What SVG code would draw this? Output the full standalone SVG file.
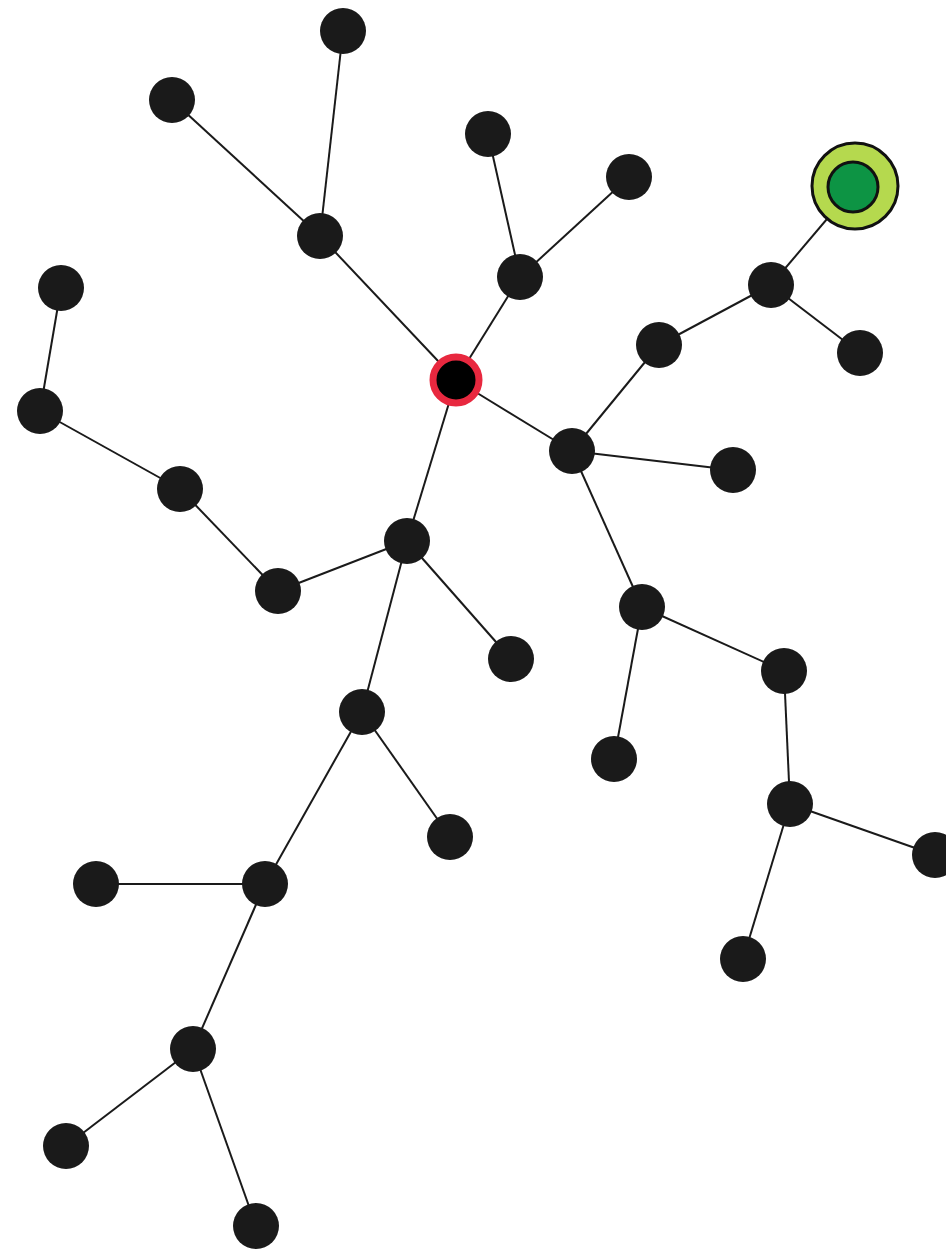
<svg xmlns="http://www.w3.org/2000/svg" width="946" height="1249" viewBox="0 0 946 1249">
<style>
.e{stroke:#1a1a1a;stroke-width:2;fill:none}
.n{fill:#1a1a1a}
</style>
<rect width="946" height="1249" fill="#fff"/>
<g id="connectors" class="e">
<line x1="343" y1="31" x2="320" y2="236"/>
<line x1="172" y1="100" x2="320" y2="236"/>
<line x1="320" y1="236" x2="456" y2="380"/>
<line x1="488" y1="134" x2="520" y2="277"/>
<line x1="629" y1="177" x2="520" y2="277"/>
<line x1="520" y1="277" x2="456" y2="380"/>
<line x1="61" y1="288" x2="40" y2="411"/>
<line x1="40" y1="411" x2="180" y2="489"/>
<line x1="180" y1="489" x2="278" y2="591"/>
<line x1="278" y1="591" x2="407" y2="541"/>
<line x1="407" y1="541" x2="456" y2="380"/>
<line x1="407" y1="541" x2="511" y2="659"/>
<line x1="407" y1="541" x2="362" y2="712"/>
<line x1="456" y1="380" x2="572" y2="451"/>
<line x1="572" y1="451" x2="733" y2="470"/>
<line x1="572" y1="451" x2="659" y2="345"/>
<line x1="659" y1="345" x2="771" y2="285"/>
<line x1="771" y1="285" x2="855" y2="186"/>
<line x1="771" y1="285" x2="860" y2="353"/>
<line x1="572" y1="451" x2="642" y2="607"/>
<line x1="642" y1="607" x2="784" y2="671"/>
<line x1="642" y1="607" x2="614" y2="759"/>
<line x1="784" y1="671" x2="790" y2="804"/>
<line x1="790" y1="804" x2="935" y2="855"/>
<line x1="790" y1="804" x2="743" y2="959"/>
<line x1="362" y1="712" x2="450" y2="837"/>
<line x1="362" y1="712" x2="265" y2="884"/>
<line x1="265" y1="884" x2="96" y2="884"/>
<line x1="265" y1="884" x2="193" y2="1049"/>
<line x1="193" y1="1049" x2="66" y2="1146"/>
<line x1="193" y1="1049" x2="256" y2="1226"/>
</g>
<g id="n1"><circle class="n" cx="343" cy="31" r="23"/></g>
<g id="n2"><circle class="n" cx="172" cy="100" r="23"/></g>
<g id="n3"><circle class="n" cx="320" cy="236" r="23"/></g>
<g id="n4"><circle class="n" cx="488" cy="134" r="23"/></g>
<g id="n5"><circle class="n" cx="629" cy="177" r="23"/></g>
<g id="n6"><circle class="n" cx="520" cy="277" r="23"/></g>
<g id="n7"><circle class="n" cx="61" cy="288" r="23"/></g>
<g id="n8"><circle class="n" cx="40" cy="411" r="23"/></g>
<g id="root"><circle cx="456" cy="380" r="23" fill="#000" stroke="#e8283f" stroke-width="7"/></g>
<g id="n10"><circle class="n" cx="180" cy="489" r="23"/></g>
<g id="n11"><circle class="n" cx="278" cy="591" r="23"/></g>
<g id="n12"><circle class="n" cx="407" cy="541" r="23"/></g>
<g id="n13"><circle class="n" cx="511" cy="659" r="23"/></g>
<g id="n14"><circle class="n" cx="572" cy="451" r="23"/></g>
<g id="n15"><circle class="n" cx="733" cy="470" r="23"/></g>
<g id="n16"><circle class="n" cx="659" cy="345" r="23"/></g>
<g id="n17"><circle class="n" cx="771" cy="285" r="23"/></g>
<g id="n18"><circle class="n" cx="860" cy="353" r="23"/></g>
<g id="goal">
<circle cx="855" cy="186" r="43" fill="#b5d94e" stroke="#111" stroke-width="3"/>
<circle cx="853" cy="187" r="25" fill="#0d9444" stroke="#111" stroke-width="3"/>
</g>
<g id="n20"><circle class="n" cx="642" cy="607" r="23"/></g>
<g id="n21"><circle class="n" cx="784" cy="671" r="23"/></g>
<g id="n22"><circle class="n" cx="614" cy="759" r="23"/></g>
<g id="n23"><circle class="n" cx="790" cy="804" r="23"/></g>
<g id="n24"><circle class="n" cx="935" cy="855" r="23"/></g>
<g id="n25"><circle class="n" cx="743" cy="959" r="23"/></g>
<g id="n26"><circle class="n" cx="362" cy="712" r="23"/></g>
<g id="n27"><circle class="n" cx="450" cy="837" r="23"/></g>
<g id="n28"><circle class="n" cx="96" cy="884" r="23"/></g>
<g id="n29"><circle class="n" cx="265" cy="884" r="23"/></g>
<g id="n30"><circle class="n" cx="193" cy="1049" r="23"/></g>
<g id="n31"><circle class="n" cx="66" cy="1146" r="23"/></g>
<g id="n32"><circle class="n" cx="256" cy="1226" r="23"/></g>
</svg>
